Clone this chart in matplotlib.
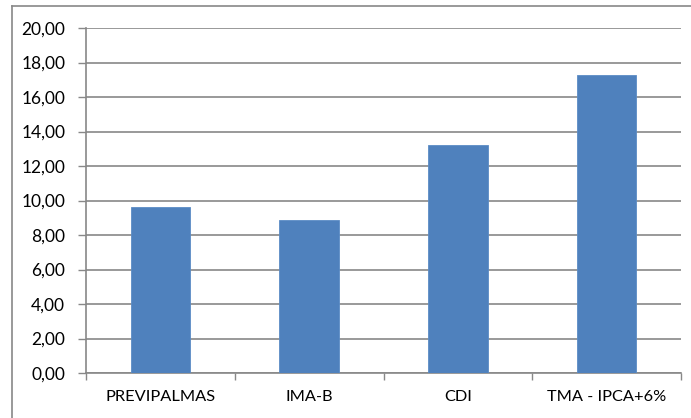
import matplotlib
matplotlib.use("Agg")
import matplotlib.pyplot as plt
from matplotlib.lines import Line2D
from matplotlib.ticker import FixedLocator, FuncFormatter

categories = ["PREVIPALMAS", "IMA-B", "CDI", "TMA - IPCA+6%"]
values = [9.63, 8.88, 13.23, 17.29]
yticks = [0, 2, 4, 6, 8, 10, 12, 14, 16, 18, 20]

W, H = 691, 418
fig = plt.figure(figsize=(W / 100, H / 100), dpi=100)
plt.rcParams['font.family'] = ['Lato', 'DejaVu Sans']

gray = "#888888"
ax = fig.add_axes([86 / W, 1 - 373 / H, (681 - 86) / W, (373 - 28) / H])
x = list(range(len(categories)))
ax.bar(x, values, width=0.40, color="#4F81BD", edgecolor="#5B8CC6", linewidth=0.6, zorder=3)

ax.set_xlim(-0.5, len(categories) - 0.5)
ax.set_ylim(0, 20)
ax.set_yticks(yticks)
ax.yaxis.set_major_formatter(FuncFormatter(lambda v, p: f"{v:.2f}".replace(".", ",")))
ax.set_xticks(x)
ax.set_xticklabels(categories)
ax.xaxis.set_minor_locator(FixedLocator([i - 0.5 for i in range(len(categories) + 1)]))
ax.tick_params(axis="x", which="major", length=0, pad=12, labelsize=11.8, labelcolor="#000000")
ax.tick_params(axis="x", which="minor", length=5, width=1, color=gray)
ax.tick_params(axis="y", which="major", length=6, width=1, color=gray, pad=9, labelsize=12.5, labelcolor="#000000")

ax.grid(axis="y", color=gray, linewidth=1.2, zorder=0)
ax.set_axisbelow(True)
for s in ["top", "right"]:
    ax.spines[s].set_visible(False)
for s in ["left", "bottom"]:
    ax.spines[s].set_color(gray)
    ax.spines[s].set_linewidth(1.2)

# outer chart border (left and top edges visible)
fig.add_artist(Line2D([11.5 / W, 11.5 / W], [0, 1 - 6 / H], color=gray, linewidth=1.2))
fig.add_artist(Line2D([11.5 / W, 1], [1 - 6 / H, 1 - 6 / H], color=gray, linewidth=1.2))

fig.savefig("out.png", dpi=100)
